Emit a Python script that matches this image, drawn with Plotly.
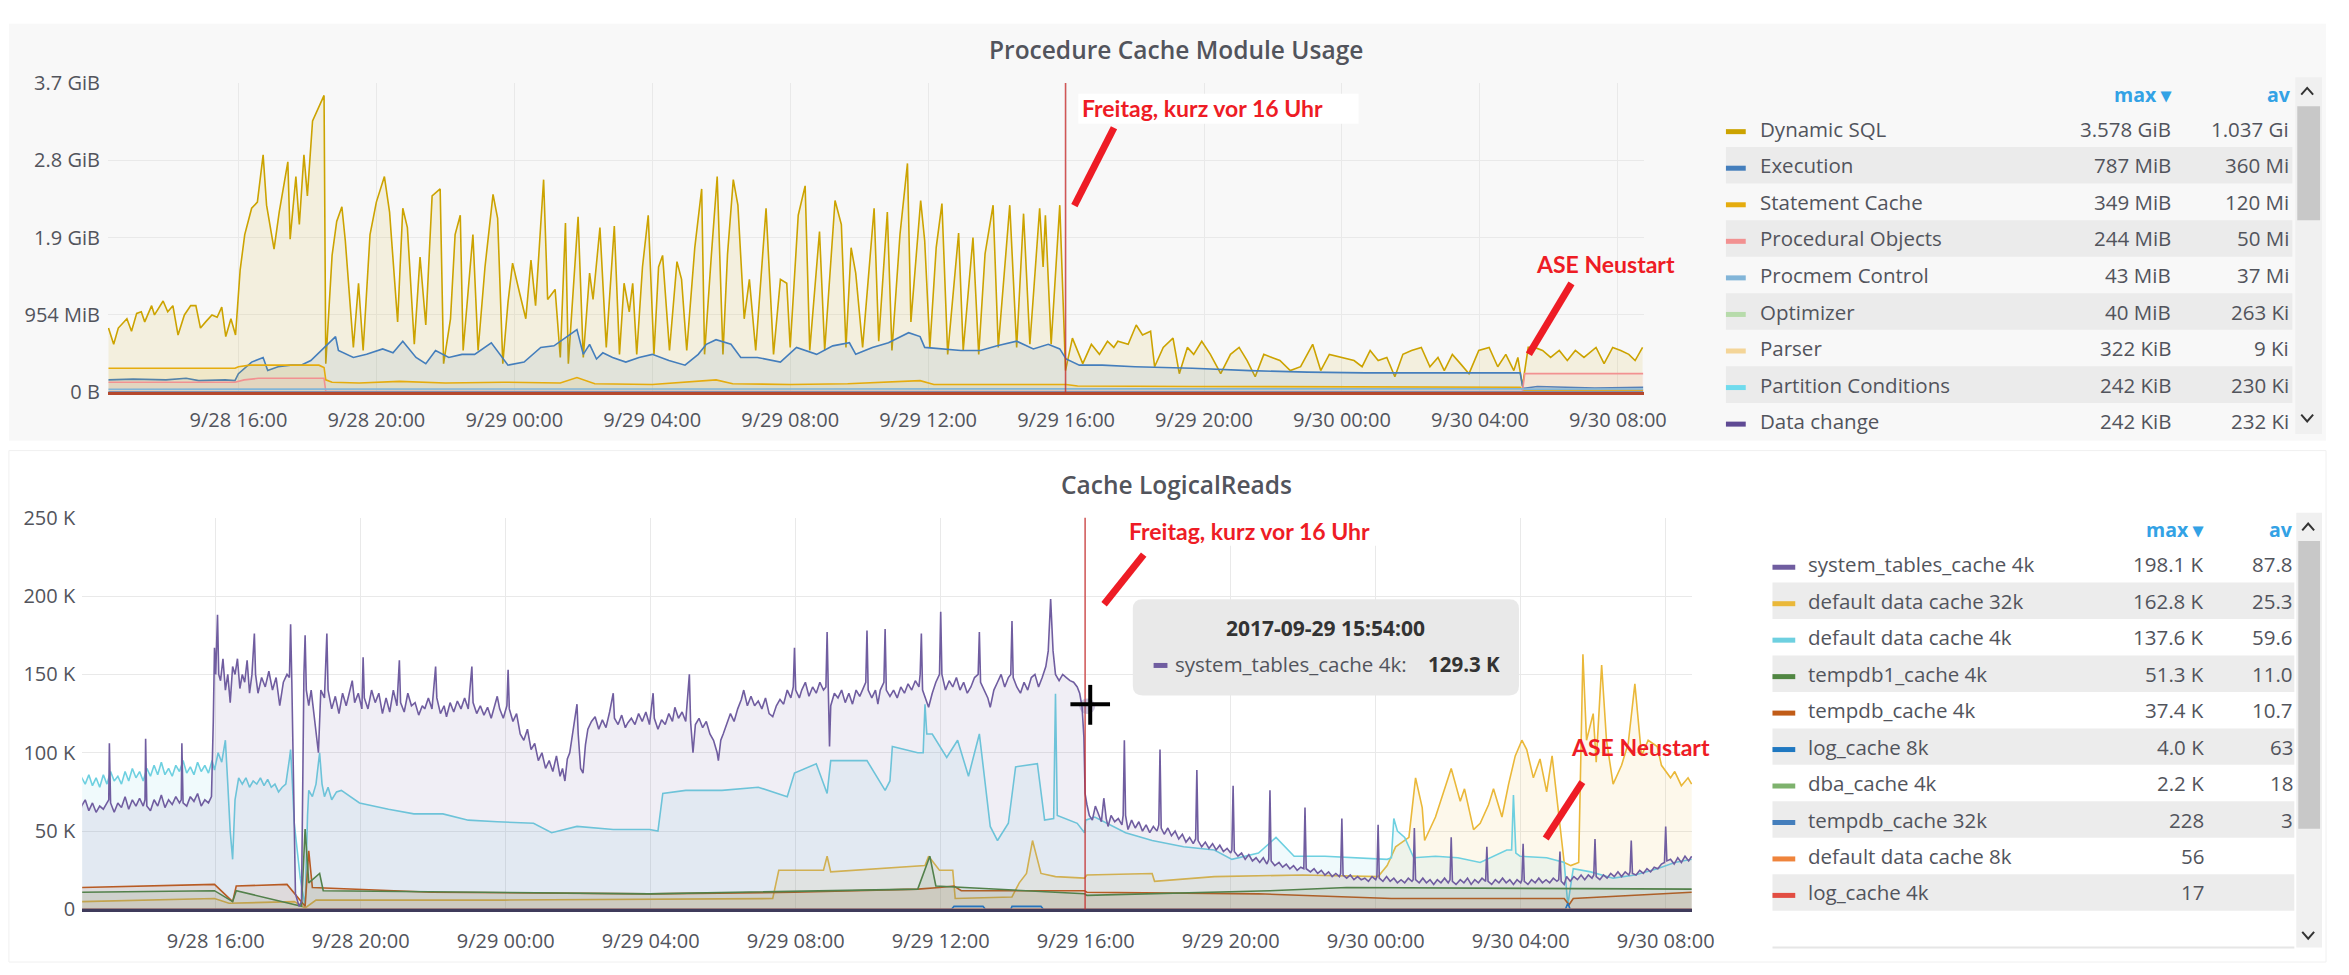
import pandas as pd
import plotly.graph_objects as go

W, H = 2349, 975
BASE = pd.Timestamp("2017-09-28 12:00")


def tx(mins):
    return BASE + pd.to_timedelta(mins, unit="min")


def px(x):
    return x / W


def py(y):
    return 1 - y / H


# ---------------- top panel data: (minutes after 9/28 12:00, value in 1e9 bytes)
dynamic_sql = [
    (14, 0.83), (23, 0.62), (31, 0.83), (46, 0.95), (54, 0.79), (63, 1.02), (71, 1.04), (77, 0.91),
    (89, 1.12), (94, 1.0), (109, 1.18), (117, 1.04), (126, 1.12), (135, 0.74), (146, 1.0), (157, 1.12),
    (166, 1.12), (174, 0.83), (183, 0.91), (194, 1.0), (203, 0.97), (211, 1.10), (218, 0.72), (227, 0.95),
    (235, 0.74), (243, 1.58), (251, 2.04), (263, 2.38), (273, 2.46), (283, 3.07), (289, 2.42), (302, 1.85),
    (311, 2.33), (326, 2.98), (330, 1.98), (340, 2.79), (346, 2.17), (354, 3.07), (360, 2.54), (369, 3.51),
    (389, 3.84), (392, 0.37), (403, 1.77), (411, 2.21), (420, 2.40), (426, 1.96), (440, 0.58), (449, 1.41),
    (457, 0.54), (469, 2.04), (480, 2.46), (494, 2.79), (503, 2.33), (517, 0.91), (526, 2.38), (534, 2.13),
    (546, 0.62), (556, 1.75), (566, 0.87), (577, 2.54), (591, 2.63), (597, 0.37), (609, 0.95), (617, 2.04),
    (626, 2.29), (631, 0.54), (648, 2.04), (657, 0.54), (669, 1.62), (683, 2.56), (691, 2.25), (700, 0.37),
    (709, 1.16), (717, 1.67), (729, 1.29), (740, 0.95), (749, 1.71), (757, 1.12), (771, 2.75), (778, 1.2),
    (791, 1.33), (800, 0.45), (809, 2.19), (814, 0.37), (831, 2.27), (840, 0.45), (851, 1.54), (857, 1.2),
    (869, 2.13), (880, 0.58), (894, 2.15), (903, 0.49), (911, 1.41), (920, 1.04), (926, 1.41), (933, 0.49),
    (943, 1.62), (953, 2.29), (963, 0.49), (971, 1.62), (978, 1.77), (990, 0.54), (1003, 1.69), (1011, 1.46),
    (1020, 0.54), (1034, 1.87), (1046, 2.63), (1051, 0.49), (1063, 1.79), (1073, 2.79), (1083, 0.49),
    (1091, 1.79), (1101, 2.75), (1109, 2.42), (1120, 0.95), (1129, 1.46), (1140, 0.54), (1149, 1.46),
    (1158, 2.38), (1171, 0.49), (1183, 1.46), (1194, 1.41), (1200, 0.58), (1214, 2.29), (1226, 2.67),
    (1234, 0.54), (1251, 2.08), (1260, 0.54), (1278, 2.48), (1289, 2.17), (1297, 0.58), (1306, 1.87),
    (1314, 1.54), (1326, 0.58), (1346, 2.38), (1354, 0.66), (1369, 2.33), (1377, 0.54), (1391, 2.04),
    (1404, 2.96), (1410, 0.91), (1427, 2.48), (1434, 1.96), (1443, 0.58), (1454, 1.87), (1464, 2.44),
    (1474, 0.49), (1493, 2.06), (1501, 0.54), (1518, 2.0), (1528, 0.49), (1539, 1.79), (1553, 2.42),
    (1562, 0.58), (1582, 2.42), (1594, 0.58), (1606, 2.31), (1617, 0.62), (1634, 2.38), (1640, 1.62),
    (1644, 2.29), (1654, 0.62), (1669, 2.42), (1679, 0.28), (1691, 0.70), (1709, 0.37), (1724, 0.62),
    (1738, 0.49), (1752, 0.66), (1763, 0.58), (1770, 0.66), (1788, 0.62), (1802, 0.87), (1813, 0.74),
    (1827, 0.79), (1834, 0.33), (1849, 0.58), (1866, 0.70), (1877, 0.24), (1891, 0.58), (1902, 0.49),
    (1916, 0.66), (1931, 0.49), (1949, 0.24), (1966, 0.49), (1981, 0.58), (1995, 0.41), (2009, 0.20),
    (2024, 0.49), (2038, 0.45), (2052, 0.41), (2070, 0.28), (2088, 0.33), (2109, 0.62), (2123, 0.28),
    (2138, 0.49), (2159, 0.45), (2181, 0.41), (2195, 0.33), (2209, 0.54), (2223, 0.41), (2238, 0.45),
    (2252, 0.20), (2266, 0.49), (2281, 0.54), (2298, 0.58), (2313, 0.33), (2327, 0.45), (2338, 0.28),
    (2352, 0.49), (2366, 0.37), (2381, 0.24), (2398, 0.54), (2416, 0.58), (2431, 0.33), (2445, 0.49),
    (2459, 0.28), (2466, 0.45), (2474, 0.08), (2484, 0.58), (2495, 0.58), (2509, 0.54), (2523, 0.45),
    (2538, 0.54), (2552, 0.41), (2566, 0.54), (2581, 0.45), (2602, 0.58), (2616, 0.37), (2631, 0.58),
    (2645, 0.54), (2659, 0.49), (2670, 0.41), (2683, 0.58),
]
execution = [
    (14, 0.16), (57, 0.17), (114, 0.16), (149, 0.18), (171, 0.15), (217, 0.16), (234, 0.15), (240, 0.24),
    (263, 0.39), (283, 0.45), (291, 0.28), (309, 0.33), (331, 0.35), (349, 0.35), (366, 0.41), (389, 0.58),
    (409, 0.72), (414, 0.54), (440, 0.45), (463, 0.49), (491, 0.56), (509, 0.51), (526, 0.66), (549, 0.45),
    (566, 0.37), (583, 0.54), (606, 0.45), (629, 0.49), (651, 0.49), (680, 0.64), (709, 0.35), (737, 0.39),
    (766, 0.58), (789, 0.60), (829, 0.81), (840, 0.49), (851, 0.62), (863, 0.43), (874, 0.51), (891, 0.45),
    (914, 0.39), (937, 0.45), (960, 0.49), (989, 0.41), (1017, 0.35), (1040, 0.49), (1054, 0.62),
    (1071, 0.68), (1097, 0.62), (1114, 0.45), (1143, 0.45), (1183, 0.39), (1211, 0.58), (1246, 0.49),
    (1274, 0.60), (1303, 0.64), (1314, 0.49), (1343, 0.58), (1371, 0.64), (1406, 0.77), (1426, 0.72),
    (1434, 0.58), (1463, 0.56), (1497, 0.54), (1531, 0.54), (1560, 0.60), (1594, 0.66), (1623, 0.56),
    (1649, 0.62), (1669, 0.56), (1680, 0.43), (1703, 0.35), (1743, 0.35), (1800, 0.33), (1900, 0.31),
    (2000, 0.28), (2100, 0.26), (2200, 0.25), (2300, 0.25), (2470, 0.25), (2475, 0.05), (2500, 0.075),
    (2600, 0.055), (2684, 0.065),
]
statement_cache = [
    (14, 0.31), (234, 0.31), (240, 0.33), (260, 0.35), (380, 0.35), (389, 0.32), (392, 0.16), (403, 0.13),
    (450, 0.12), (520, 0.14), (600, 0.12), (700, 0.13), (800, 0.12), (829, 0.19), (860, 0.11), (960, 0.10),
    (1071, 0.16), (1100, 0.11), (1200, 0.10), (1300, 0.11), (1426, 0.15), (1450, 0.10), (1680, 0.10),
    (1700, 0.08), (1900, 0.075), (2200, 0.07), (2470, 0.065), (2475, 0.025), (2684, 0.025),
]
procedural_objects = [
    (14, 0.13), (234, 0.13), (250, 0.16), (275, 0.18), (389, 0.18), (392, 0.01), (2474, 0.01),
    (2478, 0.24), (2684, 0.24),
]
procmem_control = [(14, 0.038), (266, 0.04), (2474, 0.045), (2478, 0.04), (2684, 0.042)]
optimizer = [(14, 0.0003), (2684, 0.0003)]
parser = [(14, 0.00001), (2684, 0.00001)]
partition_conditions = [(14, 0.00024), (2684, 0.00024)]
data_change = [(14, 0.00024), (2684, 0.00024)]

top_names = ["Dynamic SQL", "Execution", "Statement Cache", "Procedural Objects", "Procmem Control",
             "Optimizer", "Parser", "Partition Conditions", "Data change"]
top_series = [dynamic_sql, execution, statement_cache, procedural_objects, procmem_control,
              optimizer, parser, partition_conditions, data_change]
top_colors = ["#CCA300", "#447EBC", "#E5AC0E", "#F29191", "#82B5D8", "#B7DBAB", "#F4D598",
              "#70DBED", "#5F4A94"]
top_max = ["3.578 GiB", "787 MiB", "349 MiB", "244 MiB", "43 MiB", "40 MiB", "322 KiB", "242 KiB", "242 KiB"]
top_avg = ["1.037 Gi", "360 Mi", "120 Mi", "50 Mi", "37 Mi", "263 Ki", "9 Ki", "230 Ki", "232 Ki"]
top_ytick_vals = [0, 1e9, 2e9, 3e9, 4e9]
top_ytick_text = ["0 B", "954 MiB", "1.9 GiB", "2.8 GiB", "3.7 GiB"]

# ---------------- bottom panel data: (minutes after 9/28 12:00, value in K reads)
system_tables_4k = [
    (13, 55), (18, 66), (24, 70), (30, 63), (36, 68), (42, 62), (48, 66), (54, 64), (60, 68), (63, 70),
    (64, 106), (66, 68), (72, 62), (78, 68), (84, 65), (90, 72), (96, 64), (102, 70), (108, 66), (114, 71),
    (120, 66), (123, 70), (124, 109), (126, 66), (132, 63), (138, 70), (144, 66), (150, 73), (156, 65),
    (162, 70), (168, 67), (174, 72), (180, 68), (183, 70), (184, 106), (186, 68), (192, 66), (198, 72),
    (204, 69), (210, 74), (216, 66), (222, 70), (228, 68), (233, 72), (236, 120), (238, 167), (240, 150),
    (243, 188), (245, 150), (248, 146), (252, 160), (256, 140), (260, 150), (264, 132), (268, 155),
    (272, 150), (276, 160), (280, 141), (284, 150), (288, 145), (292, 159), (296, 138), (300, 150),
    (304, 176), (306, 150), (310, 138), (316, 148), (322, 142), (328, 152), (334, 140), (340, 148),
    (346, 130), (352, 145), (358, 150), (362, 148), (364, 182), (366, 145), (369, 60), (372, 10), (378, 2),
    (382, 5), (386, 150), (388, 175), (390, 140), (394, 130), (398, 140), (404, 120), (410, 100), (414, 140),
    (420, 135), (424, 176), (426, 140), (432, 128), (438, 136), (444, 125), (450, 138), (456, 130),
    (462, 140), (466, 146), (470, 132), (476, 138), (482, 128), (484, 161), (486, 135), (492, 128),
    (498, 140), (504, 132), (510, 138), (516, 125), (522, 135), (528, 126), (534, 140), (540, 130),
    (544, 159), (546, 132), (552, 126), (558, 138), (564, 130), (570, 132), (576, 124), (582, 130),
    (586, 128), (592, 135), (598, 128), (604, 155), (606, 135), (612, 125), (618, 130), (622, 123),
    (628, 132), (634, 126), (640, 133), (646, 128), (652, 135), (658, 128), (664, 155), (666, 132),
    (672, 125), (678, 130), (684, 124), (690, 129), (696, 122), (702, 130), (706, 136), (710, 128),
    (716, 122), (722, 130), (724, 153), (726, 128), (732, 120), (738, 125), (744, 112), (750, 108),
    (756, 115), (762, 102), (768, 106), (774, 95), (780, 100), (786, 90), (792, 95), (798, 88), (804, 98),
    (810, 85), (814, 90), (818, 82), (822, 96), (826, 100), (830, 110), (834, 118), (838, 131), (840, 112),
    (844, 90), (848, 87), (852, 105), (856, 115), (862, 120), (868, 123), (874, 115), (880, 121), (886, 116),
    (892, 126), (898, 138), (900, 122), (906, 118), (912, 124), (918, 116), (922, 119), (928, 122),
    (934, 118), (940, 125), (946, 120), (952, 126), (958, 118), (964, 138), (966, 122), (972, 115),
    (978, 121), (984, 118), (990, 125), (996, 120), (1000, 129), (1006, 122), (1012, 126), (1018, 120),
    (1024, 150), (1026, 120), (1030, 100), (1034, 118), (1040, 122), (1046, 116), (1052, 120), (1058, 112),
    (1064, 108), (1070, 100), (1072, 95), (1076, 108), (1080, 112), (1086, 118), (1092, 125), (1098, 120),
    (1104, 128), (1110, 134), (1114, 140), (1120, 130), (1126, 136), (1132, 130), (1138, 133), (1144, 128),
    (1150, 135), (1156, 125), (1162, 123), (1168, 130), (1174, 134), (1180, 131), (1186, 140), (1192, 135),
    (1196, 142), (1198, 167), (1200, 140), (1206, 135), (1210, 140), (1216, 145), (1222, 136), (1228, 142),
    (1234, 138), (1240, 145), (1246, 140), (1250, 142), (1252, 177), (1254, 140), (1256, 104), (1258, 130),
    (1264, 138), (1270, 135), (1276, 140), (1282, 132), (1288, 138), (1294, 131), (1300, 140), (1306, 136),
    (1312, 142), (1316, 145), (1318, 178), (1320, 140), (1326, 135), (1332, 140), (1336, 131), (1340, 140),
    (1346, 145), (1348, 179), (1350, 140), (1356, 136), (1362, 140), (1368, 135), (1374, 142), (1380, 138),
    (1386, 144), (1392, 140), (1398, 146), (1404, 142), (1406, 150), (1408, 176), (1410, 140), (1416, 134),
    (1420, 129), (1426, 138), (1432, 145), (1438, 150), (1440, 190), (1442, 150), (1448, 140), (1454, 146),
    (1460, 142), (1466, 148), (1472, 140), (1478, 145), (1484, 138), (1490, 142), (1496, 148), (1502, 150),
    (1504, 177), (1506, 145), (1512, 140), (1518, 135), (1522, 129), (1528, 140), (1534, 145), (1540, 150),
    (1546, 142), (1552, 148), (1556, 150), (1558, 184), (1560, 148), (1566, 142), (1572, 138), (1578, 145),
    (1584, 140), (1590, 148), (1596, 150), (1602, 142), (1608, 148), (1614, 155), (1618, 165), (1622, 198),
    (1626, 165), (1630, 150), (1636, 146), (1642, 150), (1648, 148), (1654, 146), (1660, 145), (1666, 142),
    (1670, 138), (1674, 129.3), (1677, 110), (1679, 74), (1682, 67), (1686, 60), (1691, 57), (1696, 66),
    (1700, 62), (1706, 56), (1710, 71), (1714, 58), (1717, 53), (1722, 60), (1728, 56), (1734, 58),
    (1740, 54), (1742, 60), (1744, 108), (1746, 60), (1750, 51), (1756, 57), (1762, 52), (1768, 56),
    (1774, 50), (1780, 54), (1786, 49), (1792, 53), (1798, 50), (1801, 54), (1803, 102), (1805, 52),
    (1810, 48), (1816, 52), (1822, 47), (1828, 50), (1834, 45), (1840, 48), (1846, 43), (1852, 46),
    (1858, 42), (1862, 45), (1864, 89), (1866, 44), (1872, 40), (1878, 43), (1884, 39), (1890, 42),
    (1896, 38), (1902, 41), (1908, 37), (1914, 39), (1920, 36), (1922, 38), (1924, 79), (1926, 37),
    (1932, 34), (1938, 36), (1944, 32), (1950, 35), (1956, 31), (1962, 33), (1968, 30), (1974, 33),
    (1980, 29), (1983, 32), (1985, 76), (1987, 31), (1993, 28), (2000, 30), (2006, 27), (2012, 29),
    (2018, 26), (2024, 28), (2030, 25), (2036, 27), (2041, 26), (2043, 65), (2045, 26), (2052, 24),
    (2058, 26), (2064, 23), (2070, 25), (2076, 22), (2082, 24), (2088, 21), (2094, 23), (2100, 21),
    (2102, 23), (2104, 58), (2106, 22), (2112, 20), (2118, 22), (2124, 19), (2130, 21), (2136, 19),
    (2142, 20), (2148, 18), (2154, 21), (2160, 19), (2162, 21), (2164, 54), (2166, 20), (2172, 18),
    (2178, 21), (2184, 18), (2190, 20), (2196, 17), (2202, 19), (2208, 17), (2214, 20), (2220, 18),
    (2222, 19), (2224, 52), (2226, 19), (2232, 17), (2238, 20), (2244, 17), (2250, 19), (2256, 16),
    (2262, 19), (2268, 17), (2274, 20), (2280, 17), (2283, 19), (2285, 46), (2287, 18), (2293, 16),
    (2300, 19), (2306, 17), (2312, 20), (2318, 16), (2324, 19), (2330, 17), (2336, 20), (2342, 18),
    (2344, 40), (2346, 18), (2352, 16), (2358, 19), (2364, 17), (2370, 20), (2376, 17), (2382, 19),
    (2388, 16), (2394, 19), (2400, 17), (2402, 19), (2404, 42), (2406, 18), (2412, 16), (2418, 19),
    (2424, 17), (2430, 20), (2436, 17), (2442, 19), (2448, 17), (2454, 20), (2460, 18), (2463, 19),
    (2465, 37), (2467, 18), (2472, 16), (2476, 21), (2482, 18), (2488, 21), (2494, 19), (2500, 22),
    (2506, 19), (2512, 22), (2518, 20), (2521, 22), (2523, 45), (2525, 21), (2531, 19), (2537, 22),
    (2543, 20), (2549, 23), (2555, 21), (2561, 24), (2567, 21), (2573, 24), (2579, 22), (2581, 24),
    (2583, 44), (2585, 23), (2591, 22), (2597, 25), (2603, 23), (2609, 26), (2615, 24), (2621, 27),
    (2627, 26), (2633, 29), (2638, 30), (2640, 53), (2642, 31), (2648, 32), (2654, 29), (2660, 33),
    (2666, 30), (2672, 34), (2678, 31), (2683, 34),
]
default_32k = [
    (13, 5), (238, 7), (262, 4), (370, 5), (388, 1), (406, 6), (718, 6), (1162, 7), (1172, 25), (1246, 25),
    (1252, 34), (1258, 24), (1414, 28), (1420, 34), (1438, 25), (1460, 25), (1464, 7), (1558, 8),
    (1570, 17), (1582, 23), (1592, 44), (1606, 23), (1630, 21), (1678, 20), (1682, 22), (1790, 23),
    (1794, 18), (1893, 21), (2039, 22), (2164, 21), (2179, 28), (2193, 40), (2215, 46), (2226, 84),
    (2237, 65), (2241, 44), (2259, 59), (2285, 90), (2300, 69), (2307, 77), (2322, 51), (2333, 55),
    (2347, 67), (2355, 77), (2369, 59), (2380, 80), (2391, 98), (2402, 108), (2410, 102), (2421, 84),
    (2432, 96), (2443, 75), (2452, 98), (2461, 67), (2472, 30), (2483, 28), (2496, 30), (2503, 162.8),
    (2509, 108), (2520, 125), (2525, 94), (2534, 156), (2542, 108), (2553, 80), (2567, 92), (2578, 106),
    (2589, 144), (2600, 98), (2611, 108), (2626, 104), (2633, 92), (2648, 84), (2655, 88), (2666, 79),
    (2677, 84), (2683, 80),
]
default_4k = [
    (13, 70), (17, 85), (24, 80), (30, 86), (36, 79), (42, 84), (48, 78), (54, 86), (60, 80), (66, 88),
    (72, 82), (78, 85), (84, 80), (90, 88), (96, 82), (102, 90), (108, 84), (114, 88), (120, 82), (126, 90),
    (132, 85), (138, 92), (144, 86), (150, 94), (156, 86), (162, 90), (168, 85), (174, 92), (180, 88),
    (186, 95), (192, 87), (198, 91), (204, 86), (210, 94), (216, 88), (222, 92), (228, 87), (234, 95),
    (238, 89), (244, 100), (250, 94), (256, 108), (260, 80), (264, 50), (268, 32), (272, 70), (278, 84),
    (284, 80), (290, 84), (296, 78), (302, 82), (308, 80), (314, 84), (320, 79), (326, 83), (332, 78),
    (338, 80), (344, 75), (350, 78), (356, 80), (362, 96), (364, 102), (367, 80), (370, 55), (380, 20),
    (388, 2), (392, 60), (394, 76), (400, 72), (406, 80), (412, 100), (416, 80), (420, 72), (426, 78),
    (432, 70), (440, 75), (448, 76), (478, 68), (526, 64), (568, 61), (616, 61), (658, 57), (706, 56),
    (766, 55), (796, 49), (838, 53), (898, 51), (958, 51), (972, 50), (980, 74), (1018, 76), (1078, 76),
    (1138, 78), (1186, 72), (1198, 87), (1234, 93), (1252, 74), (1258, 95), (1318, 95), (1348, 76),
    (1356, 82), (1360, 104), (1402, 100), (1411, 100), (1414, 131), (1417, 112), (1426, 112), (1450, 97),
    (1468, 108), (1486, 85), (1504, 112), (1522, 53), (1534, 44), (1552, 55), (1564, 91), (1600, 93),
    (1612, 57), (1627, 58), (1630, 137.6), (1633, 60), (1666, 55), (1678, 49), (1680, 57), (1695, 59),
    (1746, 49), (1790, 44), (1842, 40), (1893, 38), (1922, 32), (1966, 36), (1995, 46), (2025, 34),
    (2076, 34), (2127, 33), (2179, 32), (2186, 33), (2190, 58), (2196, 50), (2208, 46), (2223, 33),
    (2259, 34), (2296, 33), (2333, 30), (2377, 38), (2385, 38), (2388, 73), (2392, 36), (2399, 34),
    (2443, 33), (2472, 30), (2478, 3), (2487, 26), (2516, 24), (2553, 20), (2589, 22), (2626, 26),
    (2655, 30), (2683, 32),
]
tempdb1_4k = [
    (13, 11), (238, 12), (268, 5), (274, 12), (382, 2), (388, 51.3), (394, 17), (412, 23), (418, 12),
    (958, 10), (1402, 13), (1422, 34), (1432, 15), (1678, 10), (1682, 9), (1985, 12), (2112, 14),
    (2683, 13),
]
tempdb_4k = [
    (13, 14), (238, 16), (268, 5), (274, 15), (358, 16), (388, 2), (394, 37.4), (400, 14), (598, 11),
    (958, 10), (1198, 11), (1402, 13), (1438, 14), (1462, 15), (1474, 12), (1678, 12), (1682, 11),
    (1966, 10), (2186, 7), (2472, 7), (2480, 3), (2487, 7), (2683, 11),
]
log_cache_8k = [
    (13, 0.1), (1458, 0.1), (1462, 2), (1510, 2), (1514, 0.1), (1556, 0.1), (1558, 2), (1606, 2),
    (1610, 0.1), (2474, 0.1), (2478, 4.0), (2482, 0.1), (2683, 0.1),
]
dba_cache_4k = [(13, 0.02), (2683, 0.02)]
tempdb_32k = [(13, 0.003), (2683, 0.003)]
default_8k = [(13, 0.0), (2683, 0.0)]
log_cache_4k = [(13, 0.0), (2683, 0.0)]

bot_names = ["system_tables_cache 4k", "default data cache 32k", "default data cache 4k", "tempdb1_cache 4k",
             "tempdb_cache 4k", "log_cache 8k", "dba_cache 4k", "tempdb_cache 32k", "default data cache 8k",
             "log_cache 4k"]
bot_series = [system_tables_4k, default_32k, default_4k, tempdb1_4k, tempdb_4k, log_cache_8k,
              dba_cache_4k, tempdb_32k, default_8k, log_cache_4k]
bot_colors = ["#705DA0", "#EAB839", "#6ED0E0", "#508642", "#C15C17", "#1F78C1", "#7EB26D", "#447EBC",
              "#EF843C", "#E24D42"]
bot_max = ["198.1 K", "162.8 K", "137.6 K", "51.3 K", "37.4 K", "4.0 K", "2.2 K", "228", "56", "17"]
bot_avg = ["87.8", "25.3", "59.6", "11.0", "10.7", "63", "18", "3", "", ""]
bot_ytick_vals = [0, 50000, 100000, 150000, 200000, 250000]
bot_ytick_text = ["0", "50 K", "100 K", "150 K", "200 K", "250 K"]

event_time = "2017-09-29 15:59"
hover_time, hover_name, hover_value = "2017-09-29 15:54:00", "system_tables_cache 4k", "129.3 K"

# ---------------- figure
TXT = "#52545c"
FONT = "Open Sans"


def rgba(hexcol, a):
    h = hexcol.lstrip("#")
    return "rgba(%d,%d,%d,%s)" % (int(h[0:2], 16), int(h[2:4], 16), int(h[4:6], 16), a)


fig = go.Figure()

for i in [0, 1, 2, 3, 4, 5, 6, 7, 8]:
    s = top_series[i]
    fig.add_trace(go.Scatter(
        x=tx([p[0] for p in s]), y=[p[1] * 1e9 for p in s], name=top_names[i], mode="lines",
        line=dict(color=top_colors[i], width=1.6), fill="tozeroy", fillcolor=rgba(top_colors[i], 0.1),
        xaxis="x", yaxis="y", showlegend=False, hoverinfo="skip"))

for i in [1, 2, 4, 3, 5, 6, 7, 8, 9, 0]:
    s = bot_series[i]
    fig.add_trace(go.Scatter(
        x=tx([p[0] for p in s]), y=[p[1] * 1000 for p in s], name=bot_names[i], mode="lines",
        line=dict(color=bot_colors[i], width=1.6), fill="tozeroy", fillcolor=rgba(bot_colors[i], 0.1),
        xaxis="x2", yaxis="y2", showlegend=False, hoverinfo="skip"))

axis_common = dict(showgrid=True, gridcolor="#e9e9e9", gridwidth=1, zeroline=False, ticks="",
                   tickfont=dict(family=FONT, size=20, color=TXT))

fig.update_layout(
    width=W, height=H, margin=dict(l=0, r=0, t=0, b=0),
    paper_bgcolor="white", plot_bgcolor="rgba(0,0,0,0)", hovermode=False,
    xaxis=dict(domain=[px(109), px(1660)], anchor="y", type="date",
               range=["2017-09-28 12:13", "2017-09-30 08:45"], tick0="2017-09-28 16:00",
               dtick=4 * 3600 * 1000, tickformat="%-m/%d %H:%M", showline=True, linecolor="#b5482d",
               linewidth=3, ticklabelstandoff=8, **axis_common),
    yaxis=dict(domain=[py(389), py(71)], anchor="x", range=[0, 4e9], tickvals=top_ytick_vals,
               ticktext=top_ytick_text, ticklabelstandoff=7, **axis_common),
    xaxis2=dict(domain=[px(83), px(1709)], anchor="y2", type="date",
                range=["2017-09-28 12:19", "2017-09-30 08:44"], tick0="2017-09-28 16:00",
                dtick=4 * 3600 * 1000, tickformat="%-m/%d %H:%M", showline=True, linecolor="#3f3b5b",
                linewidth=3, ticklabelstandoff=12, **axis_common),
    yaxis2=dict(domain=[py(921), py(518)], anchor="x2", range=[0, 250000], tickvals=bot_ytick_vals,
                ticktext=bot_ytick_text, ticklabelstandoff=6, **axis_common),
)

shapes = []
ann = []


def rect(x0, y0, x1, y1, fill, line=None, layer="below"):
    shapes.append(dict(type="rect", xref="paper", yref="paper", x0=px(x0), x1=px(x1), y0=py(y1), y1=py(y0),
                       fillcolor=fill, line=dict(width=1 if line else 0, color=line or fill), layer=layer))


def seg(x0, y0, x1, y1, color, width, layer="above"):
    shapes.append(dict(type="line", xref="paper", yref="paper", x0=px(x0), x1=px(x1), y0=py(y0), y1=py(y1),
                       line=dict(color=color, width=width), layer=layer))


def chevron(xc, yc, up):
    d = -1 if up else 1
    shapes.append(dict(type="path", xref="paper", yref="paper", layer="above",
                       path="M %f,%f L %f,%f L %f,%f" % (px(xc - 6), py(yc - 3 * d), px(xc), py(yc + 4 * d),
                                                         px(xc + 6), py(yc - 3 * d)),
                       line=dict(color="#333", width=2)))


def text(x, y, s, size=20.5, color=TXT, anchor="left", family=FONT, bg=None, weight=None):
    f = dict(family=family, size=size, color=color)
    if weight:
        f["weight"] = weight
    ann.append(dict(xref="paper", yref="paper", x=px(x), y=py(y), text=s, showarrow=False,
                    xanchor=anchor, yanchor="middle", font=f, bgcolor=bg, borderpad=0))


# panel backgrounds
rect(9, 10, 2349, 439, "#f8f8f8")
rect(9, 449, 2349, 975, "#ffffff", line="#f0f0f0")

# titles
text(1188, 37, "Procedure Cache Module Usage", size=24.5, anchor="center", weight=600)
text(1188, 484, "Cache LogicalReads", size=24.5, anchor="center", weight=600)

# event lines (annotation time)
for xr, yr in (("x", "y domain"), ("x2", "y2 domain")):
    shapes.append(dict(type="line", xref=xr, yref=yr, x0=event_time, x1=event_time, y0=0, y1=1,
                       line=dict(color="rgba(200,45,45,0.8)", width=1.5), layer="above"))

# ---- top legend table
text(2194, 83, "<b>max ▾</b>", size=19.5, color="#33a2e5", anchor="right")
text(2315, 83, "<b>av</b>", size=19.5, color="#33a2e5", anchor="right")
for i, name in enumerate(top_names):
    yc = 118 + i * 37.6
    if i % 2 == 1:
        rect(1743, yc - 18.8, 2315, yc + 18.8, "#ebebeb")
    seg(1743, yc + 3, 1763, yc + 3, top_colors[i], 5)
    text(1776, yc, name)
    text(2193, yc, top_max[i], anchor="right")
    text(2313, yc, top_avg[i], anchor="right")
rect(2318, 65, 2345, 432, "#f0f0f0")
rect(2320, 95, 2343, 212, "#c8c8c8")
chevron(2330, 80, True)
chevron(2330, 415, False)

# ---- bottom legend table
text(2227, 530, "<b>max ▾</b>", size=19.5, color="#33a2e5", anchor="right")
text(2317, 530, "<b>av</b>", size=19.5, color="#33a2e5", anchor="right")
for i, name in enumerate(bot_names):
    yc = 566 + i * 37.5
    if i % 2 == 1:
        rect(1790, yc - 18.7, 2317, yc + 18.7, "#ececec")
    seg(1790, yc + 3, 1813, yc + 3, bot_colors[i], 5)
    text(1825, yc, name)
    text(2227, yc, bot_max[i], anchor="right")
    if bot_avg[i]:
        text(2317, yc, bot_avg[i], anchor="right")
seg(1790, 960, 2317, 960, "#e6e6e6", 2, layer="below")
rect(2319, 513, 2345, 960, "#f0f0f0")
rect(2321, 542, 2343, 838, "#c8c8c8")
chevron(2331, 528, True)
chevron(2331, 947, False)

# ---- hand-drawn annotations
RED = "#ee1c25"
rect(1089, 82, 1372, 113, "white", layer="above")
text(1092, 97, "<b>Freitag, kurz vor 16 Uhr</b>", size=23, color=RED, family="Lato")
seg(1125, 117, 1085, 197, RED, 7)
text(1550, 257, "<b>ASE Neustart</b>", size=23, color=RED, family="Lato")
seg(1587, 277, 1544, 350, RED, 7)

rect(1137, 516, 1434, 547, "white", layer="above")
text(1139, 532, "<b>Freitag, kurz vor 16 Uhr</b>", size=23, color=RED, family="Lato")
seg(1155, 556, 1115, 607, RED, 7)
text(1586, 754, "<b>ASE Neustart</b>", size=23, color=RED, family="Lato")
seg(1598, 790, 1561, 848, RED, 7)

# ---- hover tooltip
x0, y0, x1, y1, r = 1144, 602, 1534, 701, 10
path = ("M {a},{b} L {c},{b} Q {d},{b} {d},{e} L {d},{f} Q {d},{g} {c},{g} L {a},{g} "
        "Q {h},{g} {h},{f} L {h},{e} Q {h},{b} {a},{b} Z").format(
    a=px(x0 + r), b=py(y0), c=px(x1 - r), d=px(x1), e=py(y0 + r), f=py(y1 - r), g=py(y1), h=px(x0))
shapes.append(dict(type="path", xref="paper", yref="paper", path=path, fillcolor="rgba(232,232,232,0.96)",
                   line=dict(width=0), layer="above"))
text(1339, 632, "<b>" + hover_time + "</b>", size=21, color="#333333", anchor="center")
seg(1165, 670, 1179, 670, "#705DA0", 5)
text(1186, 669, hover_name + ":", size=20.5, color=TXT)
text(1516, 669, "<b>" + hover_value + "</b>", size=20.5, color="#333333", anchor="right")

# hover point + cursor
shapes.append(dict(type="circle", xref="paper", yref="paper", x0=px(1090), x1=px(1106), y0=py(720), y1=py(704),
                   fillcolor="rgba(112,93,160,0.35)", line=dict(width=0), layer="above"))
seg(1081, 710, 1121, 710, "black", 4)
seg(1101, 690, 1101, 731, "black", 4)

fig.update_layout(shapes=shapes, annotations=ann)
fig.write_html("out.html", config={"displayModeBar": False, "staticPlot": True},
               post_script="document.body.style.margin='0px';document.body.style.overflow='hidden';")
